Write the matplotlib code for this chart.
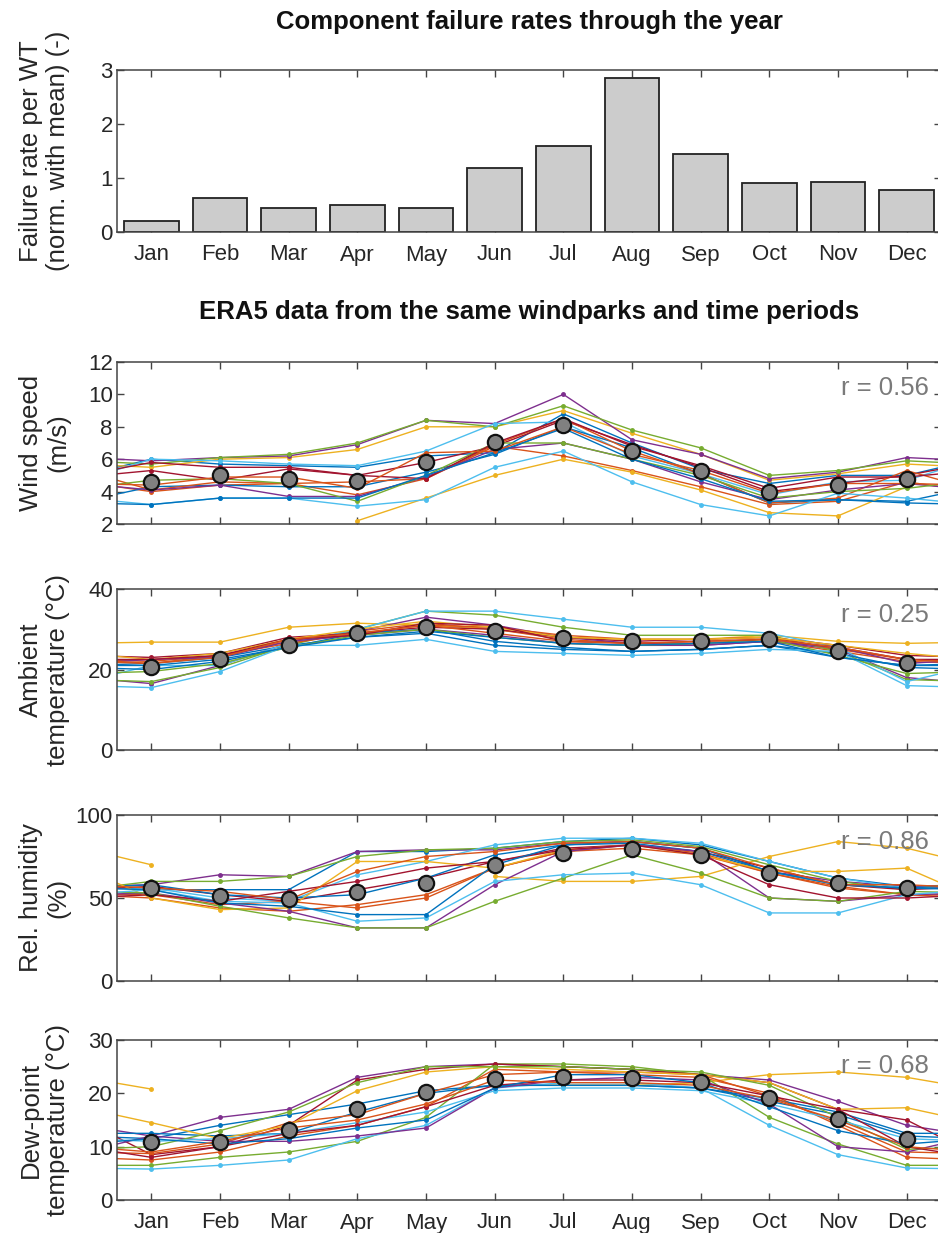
import numpy as np
import matplotlib
matplotlib.use("Agg")
import matplotlib.pyplot as plt

plt.rcParams['font.family'] = ['Liberation Sans', 'DejaVu Sans']

months = ['Jan', 'Feb', 'Mar', 'Apr', 'May', 'Jun', 'Jul', 'Aug', 'Sep', 'Oct', 'Nov', 'Dec']

failure_rate = [0.2, 0.63, 0.45, 0.5, 0.45, 1.18, 1.6, 2.85, 1.45, 0.9, 0.92, 0.78]

nan = np.nan

wind_mean = [4.6, 5.0, 4.75, 4.65, 5.85, 7.05, 8.1, 6.5, 5.3, 3.95, 4.4, 4.8]
wind_parks = [
    [6.0, 5.7, 5.6, 5.5, 6.2, 6.4, 8.8, 7.0, 5.4, 4.5, 5.0, 5.0],
    [4.0, 4.4, 4.5, 3.8, 4.8, 6.8, 6.2, 5.3, 4.3, 3.2, 3.4, 4.6],
    [5.5, 6.0, 6.1, 6.6, 8.0, 8.0, 9.0, 7.6, 6.3, 4.7, 5.1, 5.7],
    [5.9, 6.1, 6.2, 6.9, 8.4, 8.2, 10.0, 7.2, 6.3, 4.8, 5.2, 6.1],
    [5.7, 6.1, 6.3, 7.0, 8.4, 8.0, 9.3, 7.8, 6.7, 5.0, 5.3, 5.9],
    [6.0, 5.9, 5.7, 5.6, 6.5, 8.2, 8.3, 6.2, 5.1, 3.8, 4.6, 4.7],
    [5.8, 5.5, 5.5, 5.0, 5.8, 6.8, 8.4, 6.9, 5.5, 4.0, 4.5, 5.0],
    [4.3, 4.4, 4.3, 4.3, 5.2, 6.3, 8.0, 6.7, 5.1, 3.3, 3.5, 3.4],
    [4.1, 4.6, 4.5, 4.6, 4.8, 6.9, 8.5, 6.5, 5.1, 3.3, 3.6, 5.3],
    [nan, nan, nan, 2.2, 3.6, 5.0, 6.0, 5.2, 4.1, 2.7, 2.5, 4.3],
    [4.1, 4.4, 3.7, 3.7, 4.9, 6.6, 7.0, 6.0, 4.6, 3.5, 4.1, 4.5],
    [4.7, 4.8, 4.5, 3.4, 5.0, 7.0, 7.0, 6.0, 5.0, 3.6, 4.0, 4.2],
    [3.2, 3.6, 3.6, 3.1, 3.5, 5.5, 6.5, 4.6, 3.2, 2.5, 3.9, 3.6],
    [5.3, 4.7, 5.4, 5.0, 4.8, 7.0, 8.5, 6.8, 5.6, 4.2, 4.9, 4.9],
    [3.2, 3.6, 3.6, 3.6, 5.0, 6.4, 7.9, 6.0, 4.8, 3.4, 3.5, 3.3],
    [4.4, 4.9, 4.9, 4.2, 6.4, 6.5, 8.0, 6.3, 5.3, 3.9, 4.5, 4.5],
]

temp_mean = [20.5, 22.5, 26.0, 29.0, 30.5, 29.5, 27.8, 27.0, 27.2, 27.5, 24.5, 21.5]
temp_parks = [
    [21.5, 23, 26, 28, 29, 26, 25, 24.5, 25, 26, 23, 21],
    [21.5, 23.5, 27, 29.5, 31.5, 30, 27.5, 26.5, 26.5, 27, 24.5, 22],
    [26.8, 26.8, 30.5, 31.5, 31, 30, 28, 27.5, 27.5, 28.5, 27, 26.5],
    [16.5, 21, 26.5, 29.5, 33, 31, 28, 26.5, 26, 27, 25, 18],
    [17, 20.5, 26, 30, 34.5, 33.5, 30.5, 28.5, 28.5, 28.5, 24.5, 17.5],
    [21, 21, 26.5, 30, 34.5, 34.5, 32.5, 30.5, 30.5, 29, 25.5, 17],
    [23, 24, 28, 29, 30.5, 30, 28, 27, 27.5, 28, 26, 23.5],
    [20, 22, 25.5, 29, 30, 27, 25.5, 24.5, 25, 26, 24, 20.5],
    [22, 23.5, 26.5, 29, 31, 30.5, 28.5, 27.5, 27.5, 28, 25, 22.5],
    [22.5, 24, 27.5, 30, 32, 30.5, 28, 27.5, 27.5, 28, 26, 24],
    [22.5, 23, 27, 28.5, 30, 28.5, 26.5, 26, 26, 27, 25.5, 21.5],
    [19.5, 21.5, 25.5, 28.5, 30, 28, 26.5, 26, 26.5, 27.5, 23.5, 19],
    [15.5, 19.5, 26, 26, 27.5, 24.5, 24, 23.5, 24, 25, 24.5, 16],
    [22.5, 23.5, 27.5, 28.5, 31.5, 31, 27, 26.5, 27, 27.5, 25.5, 22.5],
    [21, 22.5, 25.5, 28, 29.5, 28, 26.5, 26, 26.5, 27, 23, 21],
    [21.5, 23, 27.5, 29, 31, 29, 27, 26.5, 27, 27.5, 25.5, 22.5],
]

hum_mean = [56, 51, 49.5, 53.5, 59, 70, 77, 79.5, 76, 65, 59, 56]
hum_parks = [
    [55, 55, 55, 78, 78, 80, 84, 86, 82, 72, 62, 57],
    [50, 44, 42, 46, 52, 68, 78, 80, 76, 65, 57, 52],
    [70, nan, nan, nan, nan, 63, 60, 60, 63, 75, 84, 80],
    [58, 64, 63, 78, 79, 79, 83, 84, 80, 66, 60, 57],
    [60, 60, 63, 75, 79, 80, 84, 85, 81, 70, 60, 55],
    [56, 50, 48, 64, 72, 82, 86, 86, 83, 72, 62, 56],
    [57, 52, 48, 55, 62, 72, 80, 82, 78, 68, 58, 55],
    [58, 52, 50, 52, 62, 76, 82, 83, 78, 66, 58, 56],
    [52, 46, 48, 44, 50, 68, 78, 82, 77, 65, 56, 52],
    [50, 43, 44, 72, 72, 68, 79, 82, 76, 66, 66, 68],
    [53, 47, 42, 32, 32, 58, 78, 82, 78, 50, 48, 52],
    [53, 45, 38, 32, 32, 48, 62, 76, 65, 50, 48, 54],
    [55, 48, 47, 36, 38, 60, 64, 65, 58, 41, 41, 52],
    [52, 48, 54, 60, 68, 72, 79, 82, 76, 58, 50, 50],
    [55, 47, 45, 40, 40, 70, 82, 84, 80, 66, 58, 56],
    [56, 54, 49, 66, 75, 78, 83, 84, 80, 68, 58, 58],
]

dew_mean = [10.8, 10.9, 13.2, 17.0, 20.2, 22.6, 23.0, 22.9, 22.2, 19.2, 15.2, 11.5]
dew_parks = [
    [11.5, 14, 16, 18, 20.5, 21.5, 21.5, 21.5, 21, 18.5, 16, 12],
    [7.5, 9, 12, 14, 17.5, 24.5, 24, 23.5, 23, 20, 14, 8],
    [20.8, nan, nan, nan, nan, 21.5, 21.5, 21.5, 22, 23.5, 24, 23],
    [12, 15.5, 17, 23, 25, 25.5, 25, 24.5, 23.5, 22.5, 18.5, 14],
    [6.5, 8, 9, 11, 15.5, 25.5, 25.5, 25, 23.5, 15.5, 10.5, 6.5],
    [5.8, 6.5, 7.5, 11.5, 14, 21, 22, 22, 21, 14, 8.5, 6],
    [8.5, 10, 14, 22.5, 24.5, 25.5, 25, 24.5, 23.5, 22, 17, 15],
    [12.5, 12, 12.5, 16.5, 20, 21.5, 21.5, 21.5, 21, 19, 16.5, 12.5],
    [8.7, 10.5, 14.5, 16, 20, 23.5, 24, 24, 23.5, 19.5, 14.5, 9],
    [14.5, 11.5, 14, 20.5, 24, 25, 24.5, 24, 23.5, 22, 17, 17.3],
    [12, 11, 11, 12, 13.5, 21, 22.5, 23, 22.5, 18, 10, 9],
    [10, 13, 16.5, 22, 25, 25, 25, 24.5, 24, 21.5, 15.5, 9.5],
    [11, 11.5, 12.5, 14.5, 16.5, 20.5, 21, 21, 20.5, 18, 15, 11.5],
    [8, 10, 12.5, 14, 17.5, 21.5, 22.5, 22.5, 22, 19.5, 17, 10],
    [11.5, 10.5, 11.5, 13.5, 15, 21, 23.5, 23.5, 22, 17.5, 13, 10.5],
    [9, 11, 13.5, 15, 18, 22.5, 22, 22, 21.5, 19, 15, 10],
]

r_values = ['0.56', '0.25', '0.86', '0.68']
ylabels = ['Wind speed\n(m/s)', 'Ambient\ntemperature (°C)', 'Rel. humidity\n(%)',
           'Dew-point\ntemperature (°C)']
ylims = [(2, 12), (0, 40), (0, 100), (0, 30)]
yticks = [[2, 4, 6, 8, 10, 12], [0, 20, 40], [0, 50, 100], [0, 10, 20, 30]]

matlab_colors = ['#0072BD', '#D95319', '#EDB120', '#7E2F8E', '#77AC30', '#4DBEEE', '#A2142F']

W, H = 938, 1233
fig = plt.figure(figsize=(W / 100, H / 100), dpi=100)

left = 117 / W
width = 824 / W
xcenter = left + width / 2
TFS = 16      # tick labels
LFS = 18.5    # axis labels / annotations
axis_col = '#444444'
text_col = '#262626'


def ax_at(top_px, bot_px):
    return fig.add_axes([left, 1 - bot_px / H, width, (bot_px - top_px) / H])


def style(ax, labels):
    xm = np.arange(1, 13)
    ax.set_xlim(0.5, 12.5)
    ax.set_xticks(xm)
    ax.set_xticklabels(months if labels else [])
    ax.tick_params(direction='in', top=True, right=True, length=5, width=1,
                   colors=axis_col, labelcolor=text_col, labelsize=TFS)
    ax.tick_params(axis='x', pad=9)
    ax.tick_params(axis='y', pad=3)
    for s in ax.spines.values():
        s.set_color(axis_col)
        s.set_linewidth(1.1)


def set_ylab(ax, txt):
    ax.set_ylabel(txt, fontsize=LFS, color=text_col, linespacing=1.15)
    ax.yaxis.set_label_coords(-0.057, 0.5)


# Bar panel
ax0 = ax_at(70, 232)
x = np.arange(1, 13)
ax0.bar(x, failure_rate, width=0.8, color='#cccccc', edgecolor='#222222', linewidth=1.3, zorder=2)
ax0.set_ylim(0, 3)
ax0.set_yticks([0, 1, 2, 3])
style(ax0, True)
set_ylab(ax0, 'Failure rate per WT\n(norm. with mean) (-)')

fig.text(xcenter, 1 - 22 / H, 'Component failure rates through the year', ha='center',
         va='center', fontsize=18.5, fontweight='bold', color='#111111')
fig.text(xcenter, 1 - 312 / H, 'ERA5 data from the same windparks and time periods',
         ha='center', va='center', fontsize=18.5, fontweight='bold', color='#111111')

panels = [(362, 524), (589, 750), (815, 981), (1040, 1200)]
datasets = [(wind_parks, wind_mean), (temp_parks, temp_mean), (hum_parks, hum_mean),
            (dew_parks, dew_mean)]

xe = np.arange(0, 14)
for i, ((tp, bp), (parks, mean)) in enumerate(zip(panels, datasets)):
    ax = ax_at(tp, bp)
    for j, p in enumerate(parks):
        p = np.asarray(p, dtype=float)
        ext = np.concatenate([[p[-1]], p, [p[0]]])
        ax.plot(xe, ext, '-', color=matlab_colors[j % 7], lw=1.0, marker='.', ms=5,
                markevery=list(range(1, 13)), zorder=2)
    ax.plot(x, mean, 'o', ms=11, mfc='#808080', mec='#111111', mew=1.6, zorder=4, ls='none')
    ax.set_ylim(*ylims[i])
    ax.set_yticks(yticks[i])
    style(ax, i == 3)
    set_ylab(ax, ylabels[i])
    ax.text(0.985, 0.84, 'r = ' + r_values[i], transform=ax.transAxes, ha='right', va='center',
            fontsize=LFS, color='#7a7a7a', zorder=5)

fig.savefig('out.png', dpi=100)
